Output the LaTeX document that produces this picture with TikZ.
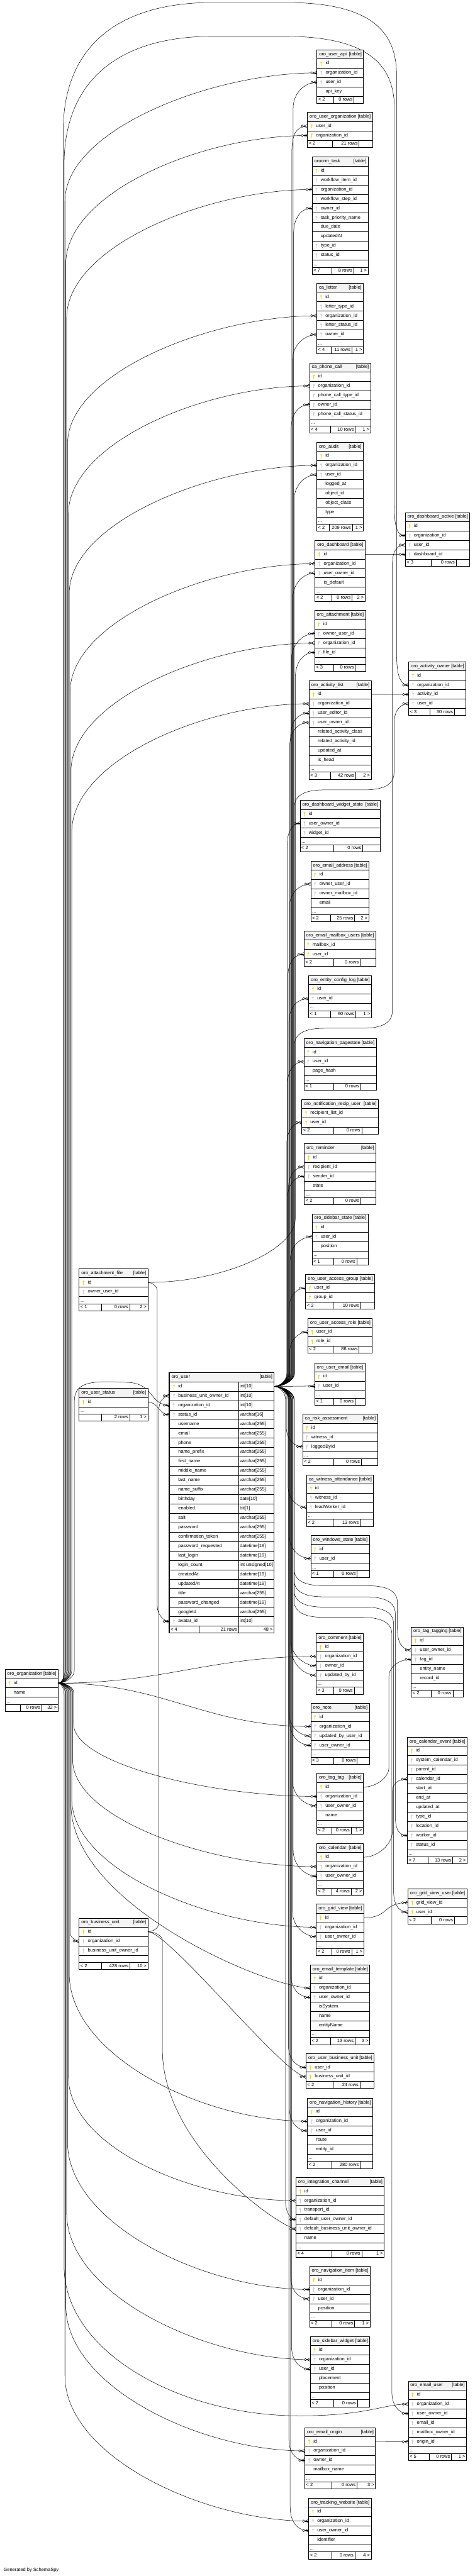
\documentclass[tikz,border=0pt]{standalone}
\usepackage{fontspec}
\setmainfont{Liberation Sans}
\usetikzlibrary{calc}
\pgfdeclarelayer{bgw}
\pgfdeclarelayer{bg}
\pgfdeclarelayer{tblw}
\pgfsetlayers{bgw,bg,tblw,main}
\definecolor{hdr}{RGB}{244,244,244}
\definecolor{keyY}{RGB}{232,222,0}
\definecolor{keyG}{RGB}{205,205,205}
\def\PH{6030}
\tikzset{
  txt/.style={inner sep=0pt,font=\fontsize{11}{13}\selectfont,text height=8pt,text depth=2.5pt},
  grid/.style={line width=0.9pt},
  border/.style={line width=1.2pt},
  rel/.style={line width=0.75pt},
}
\def\parsefoot#1|#2|#3|#4|#5\relax{\def\fdA{#1}\def\fdB{#2}\def\ftA{#3}\def\ftB{#4}\def\ftC{#5}}
\newcommand\keyicon[3]{\fill[#1] ({#2},{#3+2.5}) circle (2.3);\fill[#1] ({#2-0.75},{#3+2.5}) rectangle ({#2+0.75},{#3-5.5});}
% #1 key, #2 title, #3 L, #4 T (px from top), #5 W, #6 rows, #7 dots, #8 footer d1|d2|a|b|c
\newcommand\tbl[8]{%
  \pgfmathsetmacro\tL{#3}%
  \pgfmathsetmacro\tT{\PH-#4}%
  \pgfmathsetmacro\tR{#3+#5}%
  \pgfmathsetmacro\tHb{\tT-21}%
  \fill[hdr] (\tL,\tT) rectangle (\tR,\tHb);
  \node[txt,anchor=west] (#1-title) at ({\tL+5},{\tT-10.5}) {#2};
  \node[txt,anchor=east] (#1-tag) at ({\tR-4},{\tT-10.5}) {[table]};
  \draw[grid] (\tL,\tHb) -- (\tR,\tHb);
  \foreach \kk/\lab [count=\i] in {#6}{%
    \pgfmathsetmacro\ry{\tHb-22*\i+11}%
    \coordinate (#1-\lab-w) at (\tL,\ry);
    \coordinate (#1-\lab-e) at (\tR,\ry);
    \node[txt,anchor=west] (#1-\lab-t) at ({\tL+20},\ry) {\lab};
    \if\kk p\keyicon{keyY}{\tL+10}{\ry}\fi
    \if\kk f\keyicon{keyG}{\tL+10}{\ry}\fi
    \draw[grid] (\tL,{\ry-11}) -- (\tR,{\ry-11});
    \xdef\nrows{\i}%
  }%
  \pgfmathsetmacro\yb{\tHb-22*\nrows}%
  \ifnum#7=1
    \node[txt,anchor=west] (#1-dots) at ({\tL+3},{\yb-10}) {...};
    \pgfmathsetmacro\yb{\yb-17}%
    \draw[grid] (\tL,\yb) -- (\tR,\yb);
  \fi
  \parsefoot#8\relax
  \pgfmathsetmacro\yf{\yb-16.6}%
  \draw[grid] ({\tL+\fdA},\yb) -- ({\tL+\fdA},\yf);
  \draw[grid] ({\tL+\fdB},\yb) -- ({\tL+\fdB},\yf);
  \node[txt,anchor=west] (#1-f1) at ({\tL+3},{\yb-8.3}) {\ftA};
  \node[txt,anchor=east] (#1-f2) at ({\tL+\fdB-3},{\yb-8.3}) {\ftB};
  \node[txt,anchor=east] (#1-f3) at ({\tR-3},{\yb-8.3}) {\ftC};
  \draw[border] (\tL,\tT) rectangle (\tR,\yf);
  \begin{pgfonlayer}{tblw}\fill[white] (\tL,\tT) rectangle (\tR,\yf);\end{pgfonlayer}
}
\newcommand\mk[1]{%
  \draw[rel] ($(#1)+(-9,0)$) -- ($(#1)+(0,4)$);
  \draw[rel] ($(#1)+(-9,0)$) -- ($(#1)+(0,-4)$);
  \draw[rel] ($(#1)+(-9,0)$) -- (#1);
  \draw[rel,fill=white] ($(#1)+(-11.8,0)$) circle (2.8);}
% child above parent
\newcommand\relU[6]{%
  \draw[rel] let \p1=(#1), \p2=(#2) in
   (\p1) .. controls ({(\x1+#3pt)/2},\y1) and (#3pt,{\y1+0.5*#4pt}) .. (#3pt,{\y1+#4pt})
   -- (#3pt,{\y2-#5pt}) .. controls (#3pt,{\y2-0.45*#5pt}) and ({\x2-#6pt},\y2) .. (\p2);
  \mk{#2}}
% child below parent
\newcommand\relD[6]{%
  \draw[rel] let \p1=(#1), \p2=(#2) in
   (\p1) .. controls ({(\x1+#3pt)/2},\y1) and (#3pt,{\y1-0.5*#4pt}) .. (#3pt,{\y1-#4pt})
   -- (#3pt,{\y2+#5pt}) .. controls (#3pt,{\y2+0.45*#5pt}) and ({\x2-#6pt},\y2) .. (\p2);
  \mk{#2}}
\newcommand\relS[4]{%
  \draw[rel] (#1) .. controls +(#3,0) and +(-#4,0) .. (#2);
  \mk{#2}}
\newcommand\relGU[5]{%
  \draw[rel] let \p1=(#1), \p2=(#2) in
   (\p1) .. controls ({(\x1+#3pt)/2},\y1) and (#3pt,{\y1+15pt}) .. (#3pt,{\y1+30pt})
   -- (#3,{\PH-#4-40}) .. controls (#3,{\PH-#4-12}) and ({#3+25},{\PH-#4}) .. ({#3+70},{\PH-#4})
   -- ({#5-70},{\PH-#4}) .. controls ({#5-25},{\PH-#4}) and (#5,{\PH-#4+12}) .. (#5,{\PH-#4+40})
   -- (#5pt,{\y2-50pt}) .. controls (#5pt,{\y2-22pt}) and ({\x2-25pt},\y2) .. (\p2);
  \mk{#2}}
\newcommand\relGD[5]{%
  \draw[rel] let \p1=(#1), \p2=(#2) in
   (\p1) .. controls ({(\x1+#3pt)/2},\y1) and (#3pt,{\y1-15pt}) .. (#3pt,{\y1-30pt})
   -- (#3,{\PH-#4+40}) .. controls (#3,{\PH-#4+12}) and ({#3+25},{\PH-#4}) .. ({#3+70},{\PH-#4})
   -- ({#5-70},{\PH-#4}) .. controls ({#5-25},{\PH-#4}) and (#5,{\PH-#4-12}) .. (#5,{\PH-#4-40})
   -- (#5pt,{\y2+50pt}) .. controls (#5pt,{\y2+22pt}) and ({\x2-25pt},\y2) .. (\p2);
  \mk{#2}}
\newcommand\relT[5]{%
  \draw[rel] let \p1=(#1), \p2=(#2) in
   (\p1) .. controls ({\x1+15pt},\y1) and (#3pt,{\y1+12pt}) .. (#3pt,{\y1+30pt})
   -- (#3,{\PH-#4-300}) .. controls (#3,{\PH-#4-110}) and ({#3+120},{\PH-#4}) .. ({#3+350},{\PH-#4})
   -- ({#5-260},{\PH-#4}) .. controls ({#5-70},{\PH-#4}) and (#5,{\PH-#4-60}) .. (#5,{\PH-#4-170})
   -- (#5pt,{\y2+80pt}) .. controls (#5pt,{\y2+35pt}) and ({\x2-25pt},\y2) .. (\p2);
  \mk{#2}}
\catcode`\_=12
\begin{document}
\begin{tikzpicture}[x=1pt,y=1pt]
\begin{pgfonlayer}{bgw}\fill[white] (0,0) rectangle (1111,\PH);\end{pgfonlayer}
\useasboundingbox (0,0) rectangle (1111,\PH);

% ---------- left tables
\tbl{org}{oro_organization}{12}{3908}{124}{p/id,n/name}{1}{35|85||0 rows|32 >}
\tbl{af}{oro_attachment_file}{185.3}{2970}{160.7}{p/id,f/owner_user_id}{1}{52|118|< 1|0 rows|2 >}
\tbl{us}{oro_user_status}{185.3}{3250}{160.7}{p/id}{1}{52|118||2 rows|1 >}
\tbl{bu}{oro_business_unit}{185.3}{4490}{160.7}{p/id,f/organization_id,f/business_unit_owner_id}{1}{52.2|118.3|< 2|428 rows|10 >}

% ---------- user table
\pgfmathsetmacro\uT{\PH-3213.4}
\pgfmathsetmacro\uHb{\uT-21}
\fill[hdr] (396,\uT) rectangle (641.5,\uHb);
\node[txt,anchor=west] (user-title) at (401,{\uT-10.5}) {oro_user};
\node[txt,anchor=east] (user-tag) at (637.5,{\uT-10.5}) {[table]};
\draw[grid] (396,\uHb) -- (641.5,\uHb);
\foreach \kk/\lab/\typ [count=\i] in {p/id/int[10],f/business_unit_owner_id/int[10],f/organization_id/int[10],f/status_id/varchar[16],n/username/varchar[255],n/email/varchar[255],n/phone/varchar[255],n/name_prefix/varchar[255],n/first_name/varchar[255],n/middle_name/varchar[255],n/last_name/varchar[255],n/name_suffix/varchar[255],n/birthday/date[10],n/enabled/bit[1],n/salt/varchar[255],n/password/varchar[255],n/confirmation_token/varchar[255],n/password_requested/datetime[19],n/last_login/datetime[19],n/login_count/int unsigned[10],n/createdAt/datetime[19],n/updatedAt/datetime[19],n/title/varchar[255],n/password_changed/datetime[19],n/googleId/varchar[255],f/avatar_id/int[10]}{%
  \pgfmathsetmacro\ry{\uHb-22*\i+11}%
  \coordinate (user-\lab-w) at (396,\ry);
  \coordinate (user-\lab-e) at (641.5,\ry);
  \node[txt,anchor=west] (user-\lab-t) at (417,\ry) {\lab};
  \node[txt,anchor=west] (user-\lab-y) at (561,\ry) {\typ};
  \if\kk p\keyicon{keyY}{407}{\ry}\fi
  \if\kk f\keyicon{keyG}{407}{\ry}\fi
  \draw[grid] (396,{\ry-11}) -- (641.5,{\ry-11});
  \xdef\nrows{\i}%
}
\pgfmathsetmacro\yb{\uHb-22*\nrows}
\pgfmathsetmacro\yf{\yb-16.6}
\draw[grid] (558,\uHb) -- (558,\yf);
\draw[grid] (465.6,\yb) -- (465.6,\yf);
\node[txt,anchor=west] (user-f1) at (399,{\yb-8.3}) {< 4};
\node[txt,anchor=east] (user-f2) at (555,{\yb-8.3}) {21 rows};
\node[txt,anchor=east] (user-f3) at (638.5,{\yb-8.3}) {48 >};
\draw[line width=1.8pt] (396,\uT) rectangle (641.5,\yf);
\begin{pgfonlayer}{tblw}\fill[white] (396,\uT) rectangle (641.5,\yf);\end{pgfonlayer}

% ---------- middle and right tables
\tbl{uapi}{oro_user_api}{741.7}{116.6}{109}{p/id,f/organization_id,f/user_id,n/api_key}{0}{39.6|86.6|< 2|0 rows|}
\tbl{uorg}{oro_user_organization}{719.3}{263.3}{152.4}{p/user_id,p/organization_id}{0}{58|121|< 2|21 rows|}
\tbl{task}{orocrm_task}{730.3}{367.7}{131}{p/id,f/workflow_item_id,f/organization_id,f/workflow_step_id,f/owner_id,f/task_priority_name,n/due_date,n/updatedAt,f/type_id,f/status_id}{1}{46|97|< 7|8 rows|1 >}
\tbl{letter}{ca_letter}{741.3}{663.3}{109}{p/id,f/letter_type_id,f/organization_id,f/letter_status_id,f/owner_id}{1}{33|82|< 4|11 rows|1 >}
\tbl{phone}{ca_phone_call}{724.3}{849.5}{143}{p/id,f/organization_id,f/phone_call_type_id,f/owner_id,f/phone_call_status_id}{1}{49|107|< 4|10 rows|1 >}
\tbl{audit}{oro_audit}{741.3}{1035.3}{109}{p/id,f/organization_id,f/user_id,n/logged_at,n/object_id,n/object_class,n/type}{1}{29|83|< 2|209 rows|1 >}
\tbl{da}{oro_dashboard_active}{948.3}{1199.8}{151}{p/id,f/organization_id,f/user_id,f/dashboard_id}{0}{61|119|< 3|0 rows|}
\tbl{dash}{oro_dashboard}{737.3}{1265.6}{117}{p/id,f/organization_id,f/user_owner_id,n/is_default}{1}{39|86.4|< 2|0 rows|2 >}
\tbl{att}{oro_attachment}{736.3}{1429.3}{119}{p/id,f/owner_user_id,f/organization_id,f/file_id}{1}{45|95|< 3|0 rows|}
\tbl{ao}{oro_activity_owner}{956.3}{1549.5}{134}{p/id,f/organization_id,f/activity_id,f/user_id}{0}{49|107|< 3|30 rows|}
\tbl{alist}{oro_activity_list}{723.3}{1593.4}{145.4}{p/id,f/organization_id,f/user_editor_id,f/user_owner_id,n/related_activity_class,n/related_activity_id,n/updated_at,n/is_head}{1}{50.4|109|< 3|42 rows|2 >}
\tbl{dws}{oro_dashboard_widget_state}{702.3}{1873.5}{187}{p/id,f/user_owner_id,f/widget_id}{1}{79|146.4|< 2|0 rows|}
\tbl{eaddr}{oro_email_address}{727.3}{2015.5}{136}{p/id,f/owner_user_id,f/owner_mailbox_id,n/email}{1}{46.4|102.4|< 2|25 rows|2 >}
\tbl{emu}{oro_email_mailbox_users}{711.3}{2179.6}{168}{p/mailbox_id,p/user_id}{0}{69|131.4|< 2|0 rows|}
\tbl{ecl}{oro_entity_config_log}{722.3}{2283.6}{147}{p/id,f/user_id}{1}{51.4|110|< 1|60 rows|1 >}
\tbl{nps}{oro_navigation_pagestate}{711.3}{2431.2}{169}{p/id,f/user_id,n/page_hash}{1}{70|132.4|< 1|0 rows|}
\tbl{nru}{oro_notification_recip_user}{706.3}{2573.6}{179}{p/recipient_list_id,p/user_id}{0}{75|140|< 2|0 rows|}
\tbl{rem}{oro_reminder}{712.3}{2677.6}{167}{p/id,f/recipient_id,f/sender_id,n/state}{1}{69|131.4|< 2|0 rows|}
\tbl{sbs}{oro_sidebar_state}{730.3}{2841.3}{131}{p/id,f/user_id,n/position}{1}{51|104.4|< 1|0 rows|}
\tbl{uag}{oro_user_access_group}{715.3}{2983.2}{161.4}{p/user_id,p/group_id}{0}{63.4|128.4|< 2|10 rows|}
\tbl{uar}{oro_user_access_role}{720.3}{3086.2}{151}{p/user_id,p/role_id}{0}{58.4|120|< 2|86 rows|}
\tbl{uem}{oro_user_email}{736.3}{3190.6}{118}{p/id,f/user_id}{1}{44|94.4|< 1|0 rows|}
\tbl{risk}{ca_risk_assessment}{708.3}{3310.4}{175}{p/id,f/witness_id,f/loggedById}{1}{73|137|< 2|0 rows|}
\tbl{wit}{ca_witness_attendance}{717.3}{3452.3}{157}{p/id,f/witness_id,f/leadWorker_id}{1}{61.4|125.4|< 2|13 rows|}
\tbl{win}{oro_windows_state}{727.3}{3594.3}{137}{p/id,f/user_id}{1}{54|108.4|< 1|0 rows|}
\tbl{com}{oro_comment}{740.3}{3823.4}{110}{p/id,f/organization_id,f/owner_id,f/updated_by_id}{1}{40|88.4|< 3|0 rows|}
\tbl{tt}{oro_tag_tagging}{962.3}{3808.4}{122}{p/id,f/user_owner_id,f/tag_id,n/entity_name,n/record_id}{1}{46.4|97.4|< 2|0 rows|}
\tbl{note}{oro_note}{727.3}{3987.5}{137}{p/id,f/organization_id,f/updated_by_user_id,f/user_owner_id}{1}{54|108.4|< 3|0 rows|}
\tbl{ce}{oro_calendar_event}{953.3}{4066.6}{140}{p/id,f/system_calendar_id,f/parent_id,f/calendar_id,n/start_at,n/end_at,n/updated_at,f/type_id,f/location_id,f/worker_id,f/status_id}{1}{48.4|105.7|< 7|13 rows|2 >}
\tbl{tag}{oro_tag_tag}{741.3}{4151.2}{109}{p/id,f/organization_id,f/user_owner_id,n/name}{1}{35|80.4|< 2|0 rows|1 >}
\tbl{cal}{oro_calendar}{741.3}{4315.5}{109}{p/id,f/organization_id,f/user_owner_id}{1}{35|80.4|< 2|4 rows|2 >}
\tbl{gvu}{oro_grid_view_user}{954.3}{4421.8}{138}{p/grid_view_id,p/user_id}{0}{54.4|109|< 2|0 rows|}
\tbl{gv}{oro_grid_view}{740.3}{4457.4}{111}{p/id,f/organization_id,f/user_owner_id}{1}{36|82.4|< 2|0 rows|1 >}
\tbl{etpl}{oro_email_template}{726.3}{4599.4}{139}{p/id,f/organization_id,f/user_owner_id,n/isSystem,n/name,n/entityName}{1}{47.4|104.4|< 2|13 rows|3 >}
\tbl{ubu}{oro_user_business_unit}{716.3}{4807.3}{159}{p/user_id,p/business_unit_id}{0}{62.4|126|< 2|24 rows|}
\tbl{nh}{oro_navigation_history}{719.3}{4911.5}{153}{p/id,f/organization_id,f/user_id,n/route,n/entity_id}{1}{56.4|123.4|< 2|280 rows|}
\tbl{ic}{oro_integration_channel}{692.3}{5097.4}{207}{p/id,f/organization_id,f/transport_id,f/default_user_owner_id,f/default_business_unit_owner_id,n/name}{1}{84|154|< 4|0 rows|1 >}
\tbl{ni}{oro_navigation_item}{724.3}{5305.3}{142}{p/id,f/organization_id,f/user_id,n/position}{1}{52|105.4|< 2|0 rows|1 >}
\tbl{sbw}{oro_sidebar_widget}{726.3}{5469.5}{139}{p/id,f/organization_id,f/user_id,n/placement,n/position}{1}{55|110|< 2|0 rows|}
\tbl{eu}{oro_email_user}{955.3}{5573.6}{136.4}{p/id,f/organization_id,f/user_owner_id,f/email_id,f/mailbox_owner_id,f/origin_id}{1}{49|101|< 5|0 rows|1 >}
\tbl{eo}{oro_email_origin}{713.3}{5683.2}{165.4}{p/id,f/organization_id,f/owner_id,n/mailbox_name}{1}{63|122|< 2|0 rows|3 >}
\tbl{tw}{oro_tracking_website}{722.3}{5847.6}{146.4}{p/id,f/organization_id,f/user_owner_id,n/identifier}{1}{54|108|< 2|0 rows|4 >}

\node[txt,anchor=west] (gen) at (8,14) {Generated by SchemaSpy};

% ---------- connectors
\begin{pgfonlayer}{bg}
% user -> tables above
\relU{user-id-e}{uapi-user_id-w}{686}{30}{60}{30}
\relU{user-id-e}{uorg-user_id-w}{683}{30}{60}{30}
\relU{user-id-e}{task-owner_id-w}{687}{30}{60}{30}
\relU{user-id-e}{letter-owner_id-w}{684}{30}{60}{30}
\relU{user-id-e}{phone-owner_id-w}{681}{30}{60}{30}
\relU{user-id-e}{audit-user_id-w}{688}{30}{60}{30}
\relU{user-id-e}{dash-user_owner_id-w}{685}{30}{60}{30}
\relU{user-id-e}{att-owner_user_id-w}{682}{30}{60}{30}
\relU{user-id-e}{alist-user_editor_id-w}{680}{30}{55}{30}
\relU{user-id-e}{alist-user_owner_id-w}{678}{30}{55}{30}
\relU{user-id-e}{dws-user_owner_id-w}{672}{30}{50}{20}
\relU{user-id-e}{eaddr-owner_user_id-w}{677}{30}{55}{30}
\relU{user-id-e}{emu-user_id-w}{674}{30}{50}{25}
\relU{user-id-e}{ecl-user_id-w}{676}{30}{55}{30}
\relU{user-id-e}{nps-user_id-w}{673}{30}{50}{25}
\relU{user-id-e}{nru-user_id-w}{671}{30}{50}{22}
\relU{user-id-e}{rem-recipient_id-w}{675}{30}{50}{25}
\relU{user-id-e}{rem-sender_id-w}{673}{30}{50}{25}
\relU{user-id-e}{sbs-user_id-w}{679}{30}{55}{30}
\relU{user-id-e}{uag-user_id-w}{676}{30}{50}{25}
\relU{user-id-e}{uar-user_id-w}{678}{25}{45}{25}
\relS{user-id-e}{uem-user_id-w}{40}{40}
% user -> tables below
\relD{user-id-e}{risk-loggedById-w}{670}{25}{45}{22}
\relD{user-id-e}{wit-leadWorker_id-w}{674}{30}{50}{25}
\relD{user-id-e}{win-user_id-w}{677}{30}{55}{30}
\relD{user-id-e}{com-owner_id-w}{680}{30}{60}{30}
\relD{user-id-e}{com-updated_by_id-w}{682}{30}{60}{30}
\relD{user-id-e}{note-updated_by_user_id-w}{676}{30}{55}{30}
\relD{user-id-e}{note-user_owner_id-w}{678}{30}{55}{30}
\relD{user-id-e}{tag-user_owner_id-w}{684}{30}{60}{30}
\relD{user-id-e}{cal-user_owner_id-w}{686}{30}{60}{30}
\relD{user-id-e}{gv-user_owner_id-w}{684}{30}{60}{30}
\relD{user-id-e}{etpl-user_owner_id-w}{680}{30}{55}{30}
\relD{user-id-e}{ubu-user_id-w}{675}{30}{50}{25}
\relD{user-id-e}{nh-user_id-w}{677}{30}{55}{28}
\relD{user-id-e}{ic-default_user_owner_id-w}{668}{30}{45}{15}
\relD{user-id-e}{ni-user_id-w}{680}{30}{55}{30}
\relD{user-id-e}{sbw-user_id-w}{682}{30}{55}{30}
\relD{user-id-e}{eo-owner_id-w}{676}{30}{50}{25}
\relD{user-id-e}{tw-user_owner_id-w}{679}{30}{55}{30}
% user -> right column through gaps
\relGU{user-id-e}{ao-user_id-w}{689}{1849}{922}
\relGU{user-id-e}{da-user_id-w}{689}{2407}{918}
\relGD{user-id-e}{tt-user_owner_id-w}{688}{3712}{930}
\relGD{user-id-e}{ce-worker_id-w}{688}{3738}{925}
\relGD{user-id-e}{gvu-user_id-w}{688}{3762}{921}
\relGD{user-id-e}{eu-user_owner_id-w}{688}{3786}{917}
% organization -> tables above
\relT{org-id-e}{ao-organization_id-w}{148}{6}{928}
\relT{org-id-e}{da-organization_id-w}{150}{85}{923}
\relU{org-id-e}{uapi-organization_id-w}{152}{30}{300}{250}
\relU{org-id-e}{uorg-organization_id-w}{154}{30}{300}{250}
\relU{org-id-e}{task-organization_id-w}{156}{30}{300}{250}
\relU{org-id-e}{letter-organization_id-w}{158}{30}{300}{250}
\relU{org-id-e}{phone-organization_id-w}{160}{30}{300}{250}
\relU{org-id-e}{audit-organization_id-w}{162}{30}{300}{250}
\relU{org-id-e}{dash-organization_id-w}{164}{30}{300}{250}
\relU{org-id-e}{att-organization_id-w}{166}{30}{300}{250}
\relU{org-id-e}{alist-organization_id-w}{168}{30}{300}{250}
\draw[rel] let \p1=(org-id-e), \p2=(user-organization_id-w) in
  (\p1) .. controls (155pt,\y1) and (174pt,{\y1+15pt}) .. (174pt,{\y1+30pt})
  -- (174,{\PH-3280}) .. controls (174,{\PH-3232}) and (220,{\PH-3232}) .. (300,{\PH-3236})
  .. controls (360,{\PH-3239}) and ({\x2-45pt},\y2) .. (\p2);
\mk{user-organization_id-w}
% organization -> nearby and lower tables
\relS{org-id-e}{com-organization_id-w}{250}{250}
\relS{org-id-e}{note-organization_id-w}{250}{250}
\relD{org-id-e}{tag-organization_id-w}{172}{20}{170}{250}
\relD{org-id-e}{cal-organization_id-w}{170}{20}{250}{250}
\relD{org-id-e}{gv-organization_id-w}{168}{20}{300}{250}
\relD{org-id-e}{etpl-organization_id-w}{166}{20}{430}{100}
\relD{org-id-e}{bu-organization_id-w}{164}{20}{20}{8}
\relD{org-id-e}{nh-organization_id-w}{162}{20}{346}{250}
\relD{org-id-e}{ic-organization_id-w}{160}{20}{290}{250}
\relD{org-id-e}{ni-organization_id-w}{158}{20}{345}{250}
\relD{org-id-e}{sbw-organization_id-w}{156}{20}{343}{250}
\relD{org-id-e}{eo-organization_id-w}{154}{20}{340}{250}
\relD{org-id-e}{tw-organization_id-w}{152}{20}{340}{250}
\draw[rel] let \p1=(org-id-e), \p2=(eu-organization_id-w) in
  (\p1) .. controls ({\x1+8pt},\y1) and (150pt,{\y1-12pt}) .. (150pt,{\y1-30pt})
  -- (150,{\PH-5655+350}) .. controls (150,{\PH-5655+150}) and (420,{\PH-5655}) .. (700,{\PH-5655})
  .. controls (860,{\PH-5655}) and ({\x2-60pt},\y2) .. (\p2);
\mk{eu-organization_id-w}
% business unit
\relU{bu-id-e}{user-business_unit_owner_id-w}{372}{20}{30}{12}
\relS{bu-id-e}{ubu-business_unit_id-w}{50}{50}
\relD{bu-id-e}{ic-default_business_unit_owner_id-w}{380}{20}{420}{30}
% attachment file, user status
\relU{af-id-e}{att-file_id-w}{691}{150}{60}{30}
\relD{af-id-e}{user-avatar_id-w}{368}{20}{35}{12}
\relS{us-id-e}{user-status_id-w}{25}{25}
% other parents
\draw[rel] (dash-id-e) -- (da-dashboard_id-w); \mk{da-dashboard_id-w}
\draw[rel] (alist-id-e) -- (ao-activity_id-w); \mk{ao-activity_id-w}
\draw[rel] (eo-id-e) -- (eu-origin_id-w); \mk{eu-origin_id-w}
\relU{tag-id-e}{tt-tag_id-w}{910}{45}{40}{30}
\relU{cal-id-e}{ce-calendar_id-w}{918}{60}{30}{25}
\relS{gv-id-e}{gvu-grid_view_id-w}{60}{60}
\end{pgfonlayer}
\end{tikzpicture}
\end{document}
